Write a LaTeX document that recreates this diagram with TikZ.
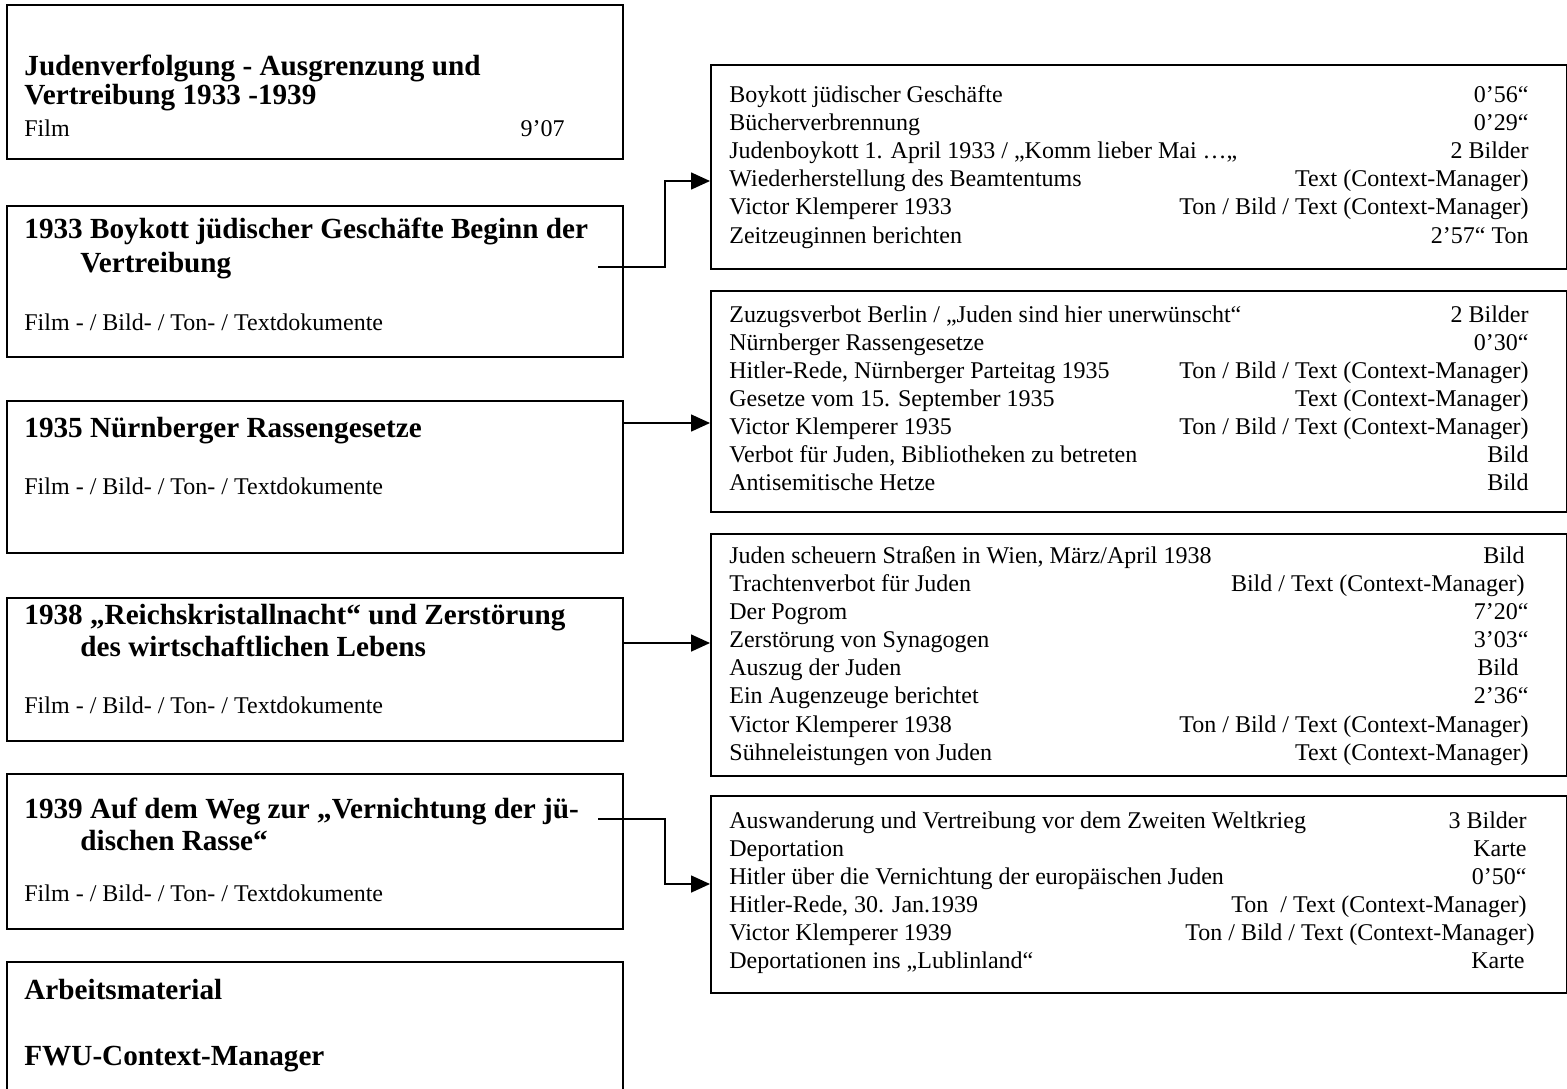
\documentclass[tikz,border=0pt]{standalone}
\usepackage{fontspec}
\setmainfont{Liberation Serif}
\usetikzlibrary{arrows.meta}
\newcommand\mytl[4]{\node[txt,anchor=base west] (#1) at (#2,#3) {#4};}
\newcommand\mytr[4]{\node[txt,anchor=base east] (#1) at (#2,#3) {#4};}
\newcommand\myhl[4]{\node[hd,anchor=base west] (#1) at (#2,#3) {#4};}
\begin{document}
\begin{tikzpicture}[x=0.5pt,y=-0.5pt,
  box/.style={draw=black,line width=1pt,anchor=north west,inner sep=0pt},
  txt/.style={inner sep=0pt,font=\fontsize{12}{14}\selectfont},
  hd/.style={inner sep=0pt,font=\fontsize{14.6}{16}\selectfont\bfseries},
  arr/.style={line width=0.8pt,-{Triangle[length=9.5pt,width=8.5pt]}}]
\useasboundingbox (0,0) rectangle (1567,1088);
\clip (0,0) rectangle (1567,1088);
\fill[white] (0,0) rectangle (1567,1088);
% left boxes
\node[box,minimum width=308pt,minimum height=77pt] (bA) at (6,4) {};
\node[box,minimum width=308pt,minimum height=75.5pt] (bB) at (6,205) {};
\node[box,minimum width=308pt,minimum height=76pt] (bC) at (6,400) {};
\node[box,minimum width=308pt,minimum height=71.5pt] (bD) at (6,597) {};
\node[box,minimum width=308pt,minimum height=77.5pt] (bE) at (6,773) {};
\node[box,minimum width=308pt,minimum height=75pt] (bF) at (6,961) {};
% right boxes
\node[box,minimum width=428pt,minimum height=102pt] (r1) at (710,64) {};
\node[box,minimum width=428pt,minimum height=110.5pt] (r2) at (710,290) {};
\node[box,minimum width=428pt,minimum height=121pt] (r3) at (710,533) {};
\node[box,minimum width=428pt,minimum height=98.5pt] (r4) at (710,795) {};
% left texts
\myhl{a1}{24}{75}{Judenverfolgung - Ausgrenzung und}
\myhl{a2}{24}{104}{Vertreibung 1933 -1939}
\mytl{a3}{24}{136}{Film}
\mytr{a4}{565}{136}{9’07}
\myhl{b1}{24}{238}{1933 Boykott jüdischer Geschäfte Beginn der}
\myhl{b2}{80}{272}{Vertreibung}
\mytl{b3}{24}{330}{Film - / Bild- / Ton- / Textdokumente}
\myhl{c1}{24}{437}{1935 Nürnberger Rassengesetze}
\mytl{c2}{24}{494}{Film - / Bild- / Ton- / Textdokumente}
\myhl{d1}{24}{624}{1938 „Reichskristallnacht“ und Zerstörung}
\myhl{d2}{80}{656}{des wirtschaftlichen Lebens}
\mytl{d3}{24}{713}{Film - / Bild- / Ton- / Textdokumente}
\myhl{e1}{24}{818}{1939 Auf dem Weg zur „Vernichtung der jü-}
\myhl{e2}{80}{850}{dischen Rasse“}
\mytl{e3}{24}{901}{Film - / Bild- / Ton- / Textdokumente}
\myhl{f1}{24}{999}{Arbeitsmaterial}
\myhl{f2}{24}{1065}{FWU-Context-Manager}
% R1
\mytl{p1}{729}{102}{Boykott jüdischer Geschäfte}\mytr{q1}{1529}{102}{0’56“}
\mytl{p2}{729}{130}{Bücherverbrennung}\mytr{q2}{1529}{130}{0’29“}
\mytl{p3}{729}{158}{Judenboykott 1. April 1933 / „Komm lieber Mai …„}\mytr{q3}{1529}{158}{2 Bilder}
\mytl{p4}{729}{186}{Wiederherstellung des Beamtentums}\mytr{q4}{1529}{186}{Text (Context-Manager)}
\mytl{p5}{729}{214}{Victor Klemperer 1933}\mytr{q5}{1529}{214}{Ton / Bild / Text (Context-Manager)}
\mytl{p6}{729}{243}{Zeitzeuginnen berichten}\mytr{q6}{1529}{243}{2’57“ Ton}
% R2
\mytl{s1}{729}{322}{Zuzugsverbot Berlin / „Juden sind hier unerwünscht“}\mytr{t1}{1529}{322}{2 Bilder}
\mytl{s2}{729}{350}{Nürnberger Rassengesetze}\mytr{t2}{1529}{350}{0’30“}
\mytl{s3}{729}{378}{Hitler-Rede, Nürnberger Parteitag 1935}\mytr{t3}{1529}{378}{Ton / Bild / Text (Context-Manager)}
\mytl{s4}{729}{406}{Gesetze vom 15. September 1935}\mytr{t4}{1529}{406}{Text (Context-Manager)}
\mytl{s5}{729}{434}{Victor Klemperer 1935}\mytr{t5}{1529}{434}{Ton / Bild / Text (Context-Manager)}
\mytl{s6}{729}{462}{Verbot für Juden, Bibliotheken zu betreten}\mytr{t6}{1529}{462}{Bild}
\mytl{s7}{729}{490}{Antisemitische Hetze}\mytr{t7}{1529}{490}{Bild}
% R3
\mytl{u1}{729}{563}{Juden scheuern Straßen in Wien, März/April 1938}\mytr{v1}{1525}{563}{Bild}
\mytl{u2}{729}{591}{Trachtenverbot für Juden}\mytr{v2}{1525}{591}{Bild / Text (Context-Manager)}
\mytl{u3}{729}{619}{Der Pogrom}\mytr{v3}{1529}{619}{7’20“}
\mytl{u4}{729}{647}{Zerstörung von Synagogen}\mytr{v4}{1529}{647}{3’03“}
\mytl{u5}{729}{675}{Auszug der Juden}\mytr{v5}{1519}{675}{Bild}
\mytl{u6}{729}{703}{Ein Augenzeuge berichtet}\mytr{v6}{1529}{703}{2’36“}
\mytl{u7}{729}{732}{Victor Klemperer 1938}\mytr{v7}{1529}{732}{Ton / Bild / Text (Context-Manager)}
\mytl{u8}{729}{760}{Sühneleistungen von Juden}\mytr{v8}{1529}{760}{Text (Context-Manager)}
% R4
\mytl{w1}{729}{828}{Auswanderung und Vertreibung vor dem Zweiten Weltkrieg}\mytr{z1}{1527}{828}{3 Bilder}
\mytl{w2}{729}{856}{Deportation}\mytr{z2}{1527}{856}{Karte}
\mytl{w3}{729}{884}{Hitler über die Vernichtung der europäischen Juden}\mytr{z3}{1527}{884}{0’50“}
\mytl{w4}{729}{912}{Hitler-Rede, 30. Jan.1939}\mytr{z4}{1527}{912}{Ton\ \ / Text (Context-Manager)}
\mytl{w5}{729}{940}{Victor Klemperer 1939}\mytr{z5}{1535}{940}{Ton / Bild / Text (Context-Manager)}
\mytl{w6}{729}{968}{Deportationen ins „Lublinland“}\mytr{z6}{1525}{968}{Karte}
% connectors
\coordinate (bs) at (598,267);
\coordinate (r1in) at (710,181);
\coordinate (cs) at (622,423);
\coordinate (r2in) at (710,423);
\coordinate (ds) at (622,643);
\coordinate (r3in) at (710,643);
\coordinate (es) at (598,819);
\coordinate (r4in) at (710,884);
\draw[arr] (bs) -- ++(67,0) |- (r1in);
\draw[arr] (cs) -- (r2in);
\draw[arr] (ds) -- (r3in);
\draw[arr] (es) -- ++(67,0) |- (r4in);
\end{tikzpicture}
\end{document}
